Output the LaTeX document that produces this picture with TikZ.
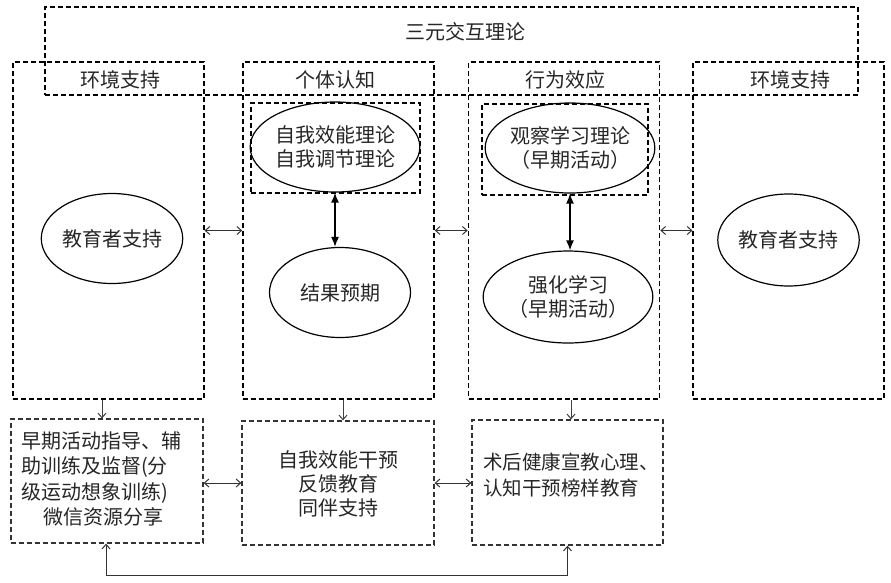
\documentclass[tikz,border=0pt]{standalone}
\usepackage{fontspec}
\setmainfont{Noto Sans CJK SC}
\usepackage{tikz}
\usetikzlibrary{arrows.meta,calc,positioning,shapes.geometric}

\begin{document}
\begin{tikzpicture}[x=1pt,y=-1pt,
	font=\fontsize{20}{26}\selectfont, text=black!85,
	colbox/.style={draw,dashed,dash pattern=on 5pt off 3pt,line width=1.1pt,minimum width=191pt,minimum height=337pt,inner sep=0},
	thickbox/.style={colbox,line width=1.7pt},
	innerbox/.style={draw,dash pattern=on 5pt off 3pt,line width=1.1pt,minimum width=169pt,minimum height=90pt,inner sep=0},
	bubble/.style={draw,ellipse,line width=1.2pt,minimum width=141pt,minimum height=90pt,inner sep=0,align=center},
	lowbox/.style={draw,dash pattern=on 5pt off 3pt,line width=1.3pt,draw=black!80,minimum width=192pt,minimum height=124pt,inner sep=0},
	link/.style={{Straight Barb[length=4.5pt,width=8pt]}-{Straight Barb[length=4.5pt,width=8pt]},line width=1pt,draw=black!80},
	down/.style={-{Straight Barb[length=4.5pt,width=8pt]},line width=1pt,draw=black!75},
	bond/.style={{Latex[length=10pt,width=8pt]}-{Latex[length=10pt,width=8pt]},line width=1.4pt}]
	\useasboundingbox (0,0) rectangle (891,582);
	% columns
	\node[colbox] (env1) at (108.5,230.5) {};
	\node[thickbox] (cog) at (338.5,230.5) {};
	\node[thickbox] (act) at (564,230.5) {};
	\node[colbox] (env2) at (788.5,230.5) {};
	\node[thickbox,minimum width=813pt,minimum height=88pt] (triad) at (451.5,51) {};
	\node at (465,32) {三元交互理论};
	\node at (120,80) {环境支持};
	\node at (335,80) {个体认知};
	\node at (565,80) {行为效应};
	\node at (790,80) {环境支持};
	% inner parts
	\node[innerbox] (cogin) at (335.5,148) {};
	\node[innerbox,minimum width=166pt,minimum height=91pt] (actin) at (565,149.5) {};
	\node[bubble] (edu1) at (112,238.5) {教育者支持};
	\node[bubble] (self) at (335,147) {自我效能理论\\[-2pt]自我调节理论};
	\node[bubble] (expect) at (340,292.5) {结果预期};
	\node[bubble] (observe) at (570,148) {观察学习理论\\[-2pt]（早期活动）};
	\node[bubble,minimum height=92pt] (reinf) at (568,297) {强化学习\\[-2pt]（早期活动）};
	\node[bubble,minimum height=92pt] (edu2) at (788.5,240) {教育者支持};
	\draw[bond] (self.south) -- (self.south |- expect.north);
	\draw[bond] (observe.south) -- (observe.south |- reinf.north);
	\draw[link] (env1.east) -- (cog.west);
	\draw[link] (cog.east) -- (act.west);
	\draw[link] (act.east) -- (env2.west);
	% measures
	\node[lowbox] (guide) at (107,481) {};
	\node[lowbox] (feedback) at (338,483) {};
	\node[lowbox,minimum width=191pt,minimum height=125pt] (health) at (567.5,482.5) {};
	\node[align=left,font=\fontsize{20}{25.5}\selectfont] at (101,479) {早期活动指导、辅\\助训练及监督(分\\级运动想象训练)\\\hspace{1.1em}微信资源分享};
	\node[align=center,font=\fontsize{20}{24}\selectfont] at (338,484) {自我效能干预\\反馈教育\\同伴支持};
	\node[align=left,font=\fontsize{19.5}{26}\selectfont] at (571,475) {术后健康宣教心理、\\认知干预榜样教育};
	\draw[down] ([xshift=-6.5pt]env1.south) -- ([xshift=-6.5pt]env1.south |- guide.north);
	\draw[down] ([xshift=4.5pt]cog.south) -- ([xshift=4.5pt]cog.south |- feedback.north);
	\draw[down] ([xshift=7pt]act.south) -- ([xshift=7pt]act.south |- health.north);
	\draw[link] (guide.east |- feedback.west) -- (feedback.west);
	\draw[link] (feedback.east) -- (feedback.east -| health.west);
	\draw[link] ([xshift=-1pt]guide.south) -- ++(0,32) -| (health.south);
\end{tikzpicture}
\end{document}
